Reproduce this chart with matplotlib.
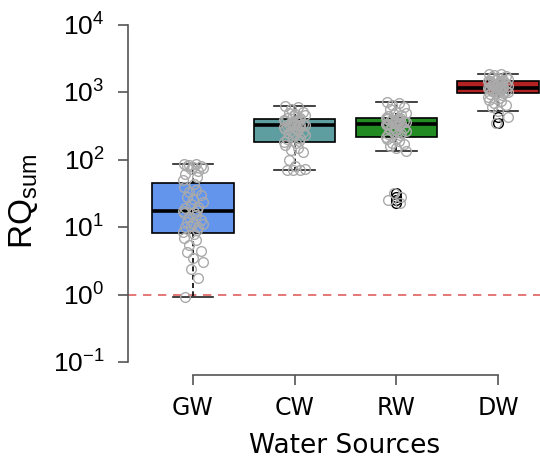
import numpy as np
import matplotlib.pyplot as plt
from matplotlib.ticker import FixedLocator, NullLocator

plt.rcParams['mathtext.fontset'] = 'custom'
plt.rcParams['mathtext.rm'] = 'Liberation Sans'
plt.rcParams['mathtext.it'] = 'Liberation Sans:italic'

# DATA
sources = ["GW", "CW", "RW", "DW"]
box_colors = ["#6495ED", "#5F9EA0", "#228B22", "#B22222"]

# box statistics
q1 = [8.3, 186, 220, 963]
med = [17.6, 323, 340, 1176]
q3 = [46, 408, 410, 1500]
whis_lo = [0.93, 71, 137, 537]
whis_hi = [88, 635, 728, 1900]
outliers = [[], [], [32, 28, 25, 23], [424, 357]]

# individual samples (grey jittered circles)
gw_vals = [88, 86, 84, 82, 80, 78, 75, 72, 68, 62, 55, 50, 44, 40, 36, 33, 30, 28,
           26, 24, 22, 20, 19, 18, 17.5, 17, 16, 15, 14, 13, 12, 11.5, 11, 10.5, 10,
           9.9, 9.2, 8.5, 7.8, 6.8, 6.5, 5.5, 4.5, 4.35, 3.54, 3.09, 2.36, 1.79, 0.93]
cw_vals = [635, 600, 560, 520, 500, 480, 460, 440, 420, 410, 400, 390, 380, 370, 360,
           350, 345, 340, 335, 330, 325, 323, 320, 315, 310, 300, 290, 280, 270, 260,
           250, 240, 230, 220, 210, 200, 190, 186, 175, 165, 150, 140, 130, 100, 80,
           73, 71, 71, 71]
rw_vals = [728, 700, 650, 600, 560, 520, 500, 480, 460, 440, 420, 410, 405, 400, 395,
           390, 380, 370, 365, 360, 355, 350, 345, 340, 340, 335, 330, 320, 310, 300,
           290, 280, 270, 260, 250, 240, 230, 220, 210, 200, 190, 180, 170, 160, 150,
           137, 32, 28, 25, 23]
dw_vals = [1900, 1850, 1800, 1750, 1700, 1650, 1600, 1550, 1520, 1500, 1480, 1450,
           1420, 1400, 1380, 1350, 1320, 1300, 1280, 1250, 1230, 1200, 1180, 1176,
           1160, 1140, 1120, 1100, 1080, 1060, 1040, 1020, 1000, 980, 963, 940, 900,
           860, 820, 780, 740, 700, 650, 600, 537, 424, 357]
samples = [gw_vals, cw_vals, rw_vals, dw_vals]

ytick_vals = [0.1, 1, 10, 100, 1000, 10000]
ytick_labels = ["$10^{-1}$", "$10^{0}$", "$10^{1}$", "$10^{2}$", "$10^{3}$", "$10^{4}$"]

# fixed jitter pattern for the strip points
jitter = [-0.09, 0.03, -0.04, 0.08, -0.06, 0.0, 0.1, -0.02, 0.05, -0.08, 0.04, -0.1, 0.01]

fig = plt.figure(figsize=(5.4, 4.63), dpi=100)
ax = fig.add_axes([128 / 540, 1 - 375 / 463, 1 - 128 / 540, (375 - 21.6) / 463])

pos = np.arange(1, len(sources) + 1)
stats = []
for i, name in enumerate(sources):
    stats.append(dict(label=name, q1=q1[i], med=med[i], q3=q3[i],
                      whislo=whis_lo[i], whishi=whis_hi[i], fliers=outliers[i]))

bp = ax.bxp(stats, positions=pos, widths=0.8, capwidths=0.4, patch_artist=True,
            boxprops=dict(edgecolor="black", linewidth=1.2),
            medianprops=dict(color="black", linewidth=2.6),
            whiskerprops=dict(color="black", linewidth=1.2, linestyle=(0, (3, 2))),
            capprops=dict(color="#222222", linewidth=1.2),
            flierprops=dict(marker="o", markerfacecolor="none", markeredgecolor="black",
                            markersize=7, markeredgewidth=1.0),
            zorder=2)
for patch, c in zip(bp["boxes"], box_colors):
    patch.set_facecolor(c)

for i, vals in enumerate(samples):
    offs = np.resize(jitter, len(vals))
    ax.plot(pos[i] + offs, vals, "o", mfc="none", mec="#aaaaaa", ms=7, mew=1.0,
            zorder=3)

ax.axhline(1, color="#e06060", linestyle=(0, (5, 4)), linewidth=1.2, zorder=1)

ax.set_yscale("log")
ax.set_ylim(10 ** -1.193, 10 ** 4.05)
ax.set_xlim(0.361, 4.413)
ax.yaxis.set_major_locator(FixedLocator(ytick_vals))
ax.yaxis.set_minor_locator(NullLocator())
ax.set_yticklabels(ytick_labels)
ax.set_xticks(pos)
ax.set_xticklabels(sources, family="DejaVu Sans", fontsize=17)

for s in ["top", "right"]:
    ax.spines[s].set_visible(False)
ax.spines["left"].set_bounds(0.1, 10000)
ax.spines["bottom"].set_bounds(1, 4)
for s in ["left", "bottom"]:
    ax.spines[s].set_color("#555555")
    ax.spines[s].set_linewidth(1.2)
ax.tick_params(axis="y", length=7, width=1.2, color="#555555", pad=10, labelsize=19)
ax.tick_params(axis="x", length=7, width=1.2, color="#555555", pad=8)

fig.text(345 / 540, 1 - 453 / 463, "Water Sources", ha="center", va="baseline",
         family="DejaVu Sans", fontsize=19)
fig.text(24 / 540, 1 - 202 / 463, r"$\mathrm{RQ}_{\mathrm{sum}}$", rotation=90,
         ha="center", va="center", fontsize=24)

fig.savefig("out.png", dpi=100)
